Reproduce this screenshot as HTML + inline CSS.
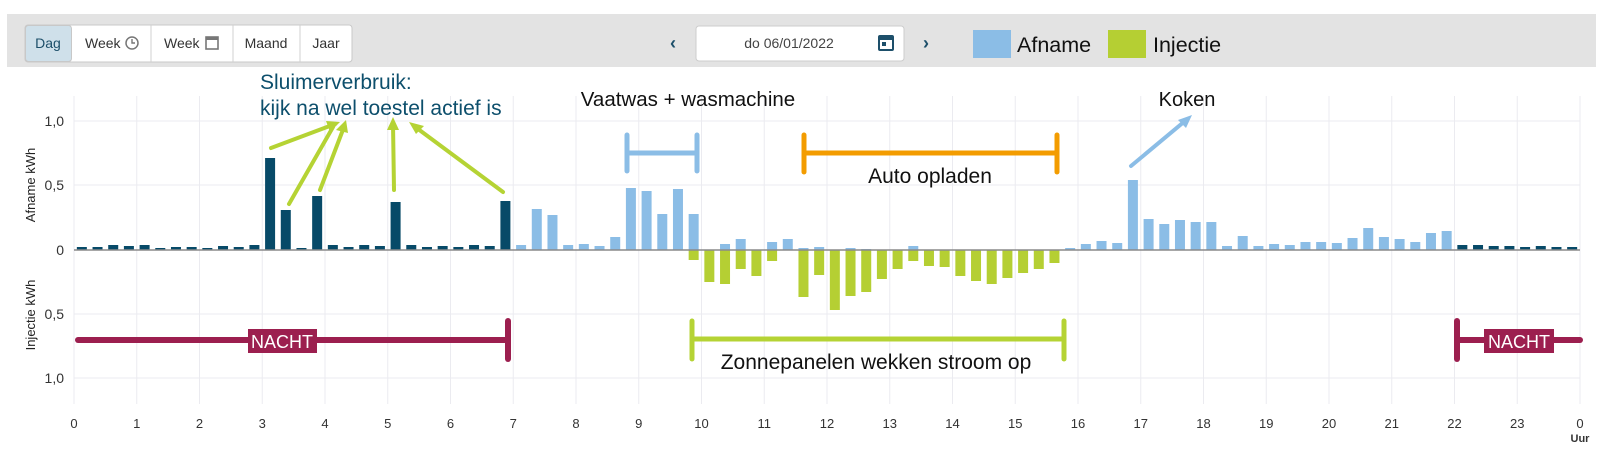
<!DOCTYPE html>
<html><head><meta charset="utf-8"><style>
html,body{margin:0;padding:0;background:#fff;width:1600px;height:467px;overflow:hidden;font-family:"Liberation Sans",sans-serif}
svg{display:block}
</style></head><body>
<svg id="s" width="1600" height="467" xmlns="http://www.w3.org/2000/svg" font-family="Liberation Sans, sans-serif">
<rect x="7" y="14" width="1589" height="53" fill="#e3e3e3"/>
<g font-size="14" fill="#333">
<rect x="25" y="25" width="327" height="37" rx="3" fill="#fff" stroke="#c8c8c8"/>
<rect x="25.5" y="25.5" width="46" height="36" rx="3" fill="#cfe0ea" stroke="#c8c8c8"/>
<line x1="151" y1="25" x2="151" y2="62" stroke="#d0d0d0"/>
<line x1="233" y1="25" x2="233" y2="62" stroke="#d0d0d0"/>
<line x1="300" y1="25" x2="300" y2="62" stroke="#d0d0d0"/>
<text x="48" y="48" text-anchor="middle" fill="#1d4f6a">Dag</text>
<text x="85" y="48">Week</text><circle cx="132" cy="43" r="6" fill="none" stroke="#777" stroke-width="1.5"/><path d="M132 39v4h3" stroke="#777" fill="none" stroke-width="1.4"/>
<text x="164" y="48">Week</text><rect x="206" y="37" width="12" height="12" fill="none" stroke="#777" stroke-width="1.6"/><rect x="206" y="37" width="12" height="3" fill="#777"/>
<text x="266" y="48" text-anchor="middle">Maand</text>
<text x="326" y="48" text-anchor="middle">Jaar</text>
</g>
<text x="673" y="49" text-anchor="middle" font-size="18" fill="#1d4f6a" font-weight="bold">‹</text>
<rect x="696" y="26" width="208" height="35" rx="3" fill="#fff" stroke="#ccc"/>
<text x="789" y="48" text-anchor="middle" font-size="14" fill="#444">do 06/01/2022</text>
<rect x="879" y="36" width="14" height="14" rx="1" fill="none" stroke="#1d4f6a" stroke-width="2"/><rect x="879" y="36" width="14" height="4" fill="#1d4f6a"/><rect x="882" y="42" width="4" height="4" fill="#1d4f6a"/>
<text x="926" y="49" text-anchor="middle" font-size="18" fill="#1d4f6a" font-weight="bold">›</text>
<rect x="973" y="30" width="38" height="28" fill="#8bbde6"/>
<text x="1017" y="52" font-size="21.5" fill="#111">Afname</text>
<rect x="1108" y="30" width="38" height="28" fill="#b5cf33"/>
<text x="1153" y="52" font-size="21.5" fill="#111">Injectie</text>
<g id="grid" stroke="#ebebf0" stroke-width="1"></g>
<g font-size="14" fill="#333" text-anchor="end">
<text x="64" y="126">1,0</text><text x="64" y="190">0,5</text><text x="64" y="255">0</text>
<text x="64" y="319">0,5</text><text x="64" y="383">1,0</text>
</g>
<text transform="translate(35,185) rotate(-90)" text-anchor="middle" font-size="13" fill="#222">Afname  kWh</text>
<text transform="translate(35,315) rotate(-90)" text-anchor="middle" font-size="13" fill="#222">Injectie  kWh</text>
<g id="xl" font-size="13" fill="#333" text-anchor="middle"></g>
<text x="1580" y="442" text-anchor="middle" font-size="11" fill="#333" font-weight="bold">Uur</text>
<g id="bars"></g>
<line x1="74" y1="250" x2="1580" y2="250" stroke="#8a8a8a" stroke-width="1.5"/>
<text x="260" y="89" font-size="21" fill="#0d4f6c">Sluimerverbruik:</text>
<text x="260" y="115" font-size="21" fill="#0d4f6c">kijk na wel toestel actief is</text>
<g stroke="#b5d334" stroke-width="4" stroke-linecap="round" fill="#b5d334">
<line x1="271" y1="148" x2="335" y2="124"/><line x1="289" y1="204" x2="333" y2="127"/>
<line x1="320" y1="190" x2="344" y2="127"/><line x1="394" y1="190" x2="393" y2="123"/>
<line x1="503" y1="192" x2="414" y2="126"/>
<polygon points="340,122 326,121 330,132" stroke="none"/>
<polygon points="346,120 336,130 348,133" stroke="none"/>
<polygon points="393,117 387,130 399,130" stroke="none"/>
<polygon points="409,122 424,126 416,134" stroke="none"/>
</g>
<text x="688" y="106" text-anchor="middle" font-size="20.5" fill="#111">Vaatwas + wasmachine</text>
<g stroke="#8bbde6" stroke-width="5" stroke-linecap="round"><line x1="627" y1="153" x2="697" y2="153"/><line x1="627" y1="135" x2="627" y2="171"/><line x1="697" y1="135" x2="697" y2="171"/></g>
<g stroke="#f39c00" stroke-width="5" stroke-linecap="round"><line x1="804" y1="153" x2="1057" y2="153"/><line x1="804" y1="135" x2="804" y2="172"/><line x1="1057" y1="135" x2="1057" y2="172"/></g>
<text x="930" y="183" text-anchor="middle" font-size="21" fill="#111">Auto opladen</text>
<text x="1187" y="106" text-anchor="middle" font-size="20" fill="#111">Koken</text>
<g stroke="#8bbde6" stroke-width="4" stroke-linecap="round"><line x1="1131" y1="166" x2="1185" y2="121"/></g>
<polygon points="1192,115 1178,120 1186,128" fill="#8bbde6"/>
<g stroke="#9c1f4f" stroke-width="6" stroke-linecap="round"><line x1="78" y1="340" x2="508" y2="340"/><line x1="508" y1="321" x2="508" y2="359"/>
<line x1="1457" y1="340" x2="1580" y2="340"/><line x1="1457" y1="321" x2="1457" y2="359"/></g>
<rect x="248" y="329" width="69" height="24" fill="#9c1f4f"/><text x="282" y="348" text-anchor="middle" font-size="18" fill="#fff">NACHT</text>
<rect x="1484" y="329" width="70" height="24" fill="#9c1f4f"/><text x="1519" y="348" text-anchor="middle" font-size="18" fill="#fff">NACHT</text>
<g stroke="#b5d334" stroke-width="5" stroke-linecap="round"><line x1="692" y1="339" x2="1064" y2="339"/><line x1="692" y1="321" x2="692" y2="359"/><line x1="1064" y1="321" x2="1064" y2="359"/></g>
<text x="876" y="369" text-anchor="middle" font-size="21" fill="#111">Zonnepanelen wekken stroom op</text>
</svg>
<script>
var NS="http://www.w3.org/2000/svg";
function el(p,t,a,txt){var e=document.createElementNS(NS,t);for(var k in a)e.setAttribute(k,a[k]);if(txt!=null)e.textContent=txt;document.getElementById(p).appendChild(e);}
var x0=74,hw=62.75;
for(var h=0;h<=24;h++){var x=x0+h*hw;el("grid","line",{x1:x,y1:96,x2:x,y2:404});el("xl","text",{x:x,y:428},h%24);}
[121,185,314,378].forEach(function(y){el("grid","line",{x1:x0,y1:y,x2:1580,y2:y});});
var up=[3,3,5,4,5,2,3,3,2,4,3,5,92,40,2,54,5,3,5,4,48,5,3,4,3,5,4,49,
5,41,35,5,6,4,13,62,59,36,61,36,0,6,11,0,8,11,2,3,0,2,1,0,0,4,0,0,0,0,0,0,0,0,0,2,6,9,7,70,31,26,30,28,28,4,14,4,6,5,8,8,7,12,22,13,11,8,17,19,
5,5,4,4,3,4,3,3];
var dn={39:10,40:32,41:34,42:19,43:26,44:11,46:47,47:25,48:60,49:46,50:42,51:29,52:19,53:11,54:16,55:17,56:26,57:31,58:34,59:28,60:23,61:19,62:13};
for(var i=0;i<96;i++){var cx=x0+(i+0.5)*hw/4;var dark=(i<28||i>=88);
if(up[i]>0)el("bars","rect",{x:cx-5,y:250-up[i],width:10,height:up[i],fill:dark?"#074a68":"#8bbde6"});
if(dn[i])el("bars","rect",{x:cx-5,y:250,width:10,height:dn[i],fill:"#b5cf33"});}
</script>
</body></html>
